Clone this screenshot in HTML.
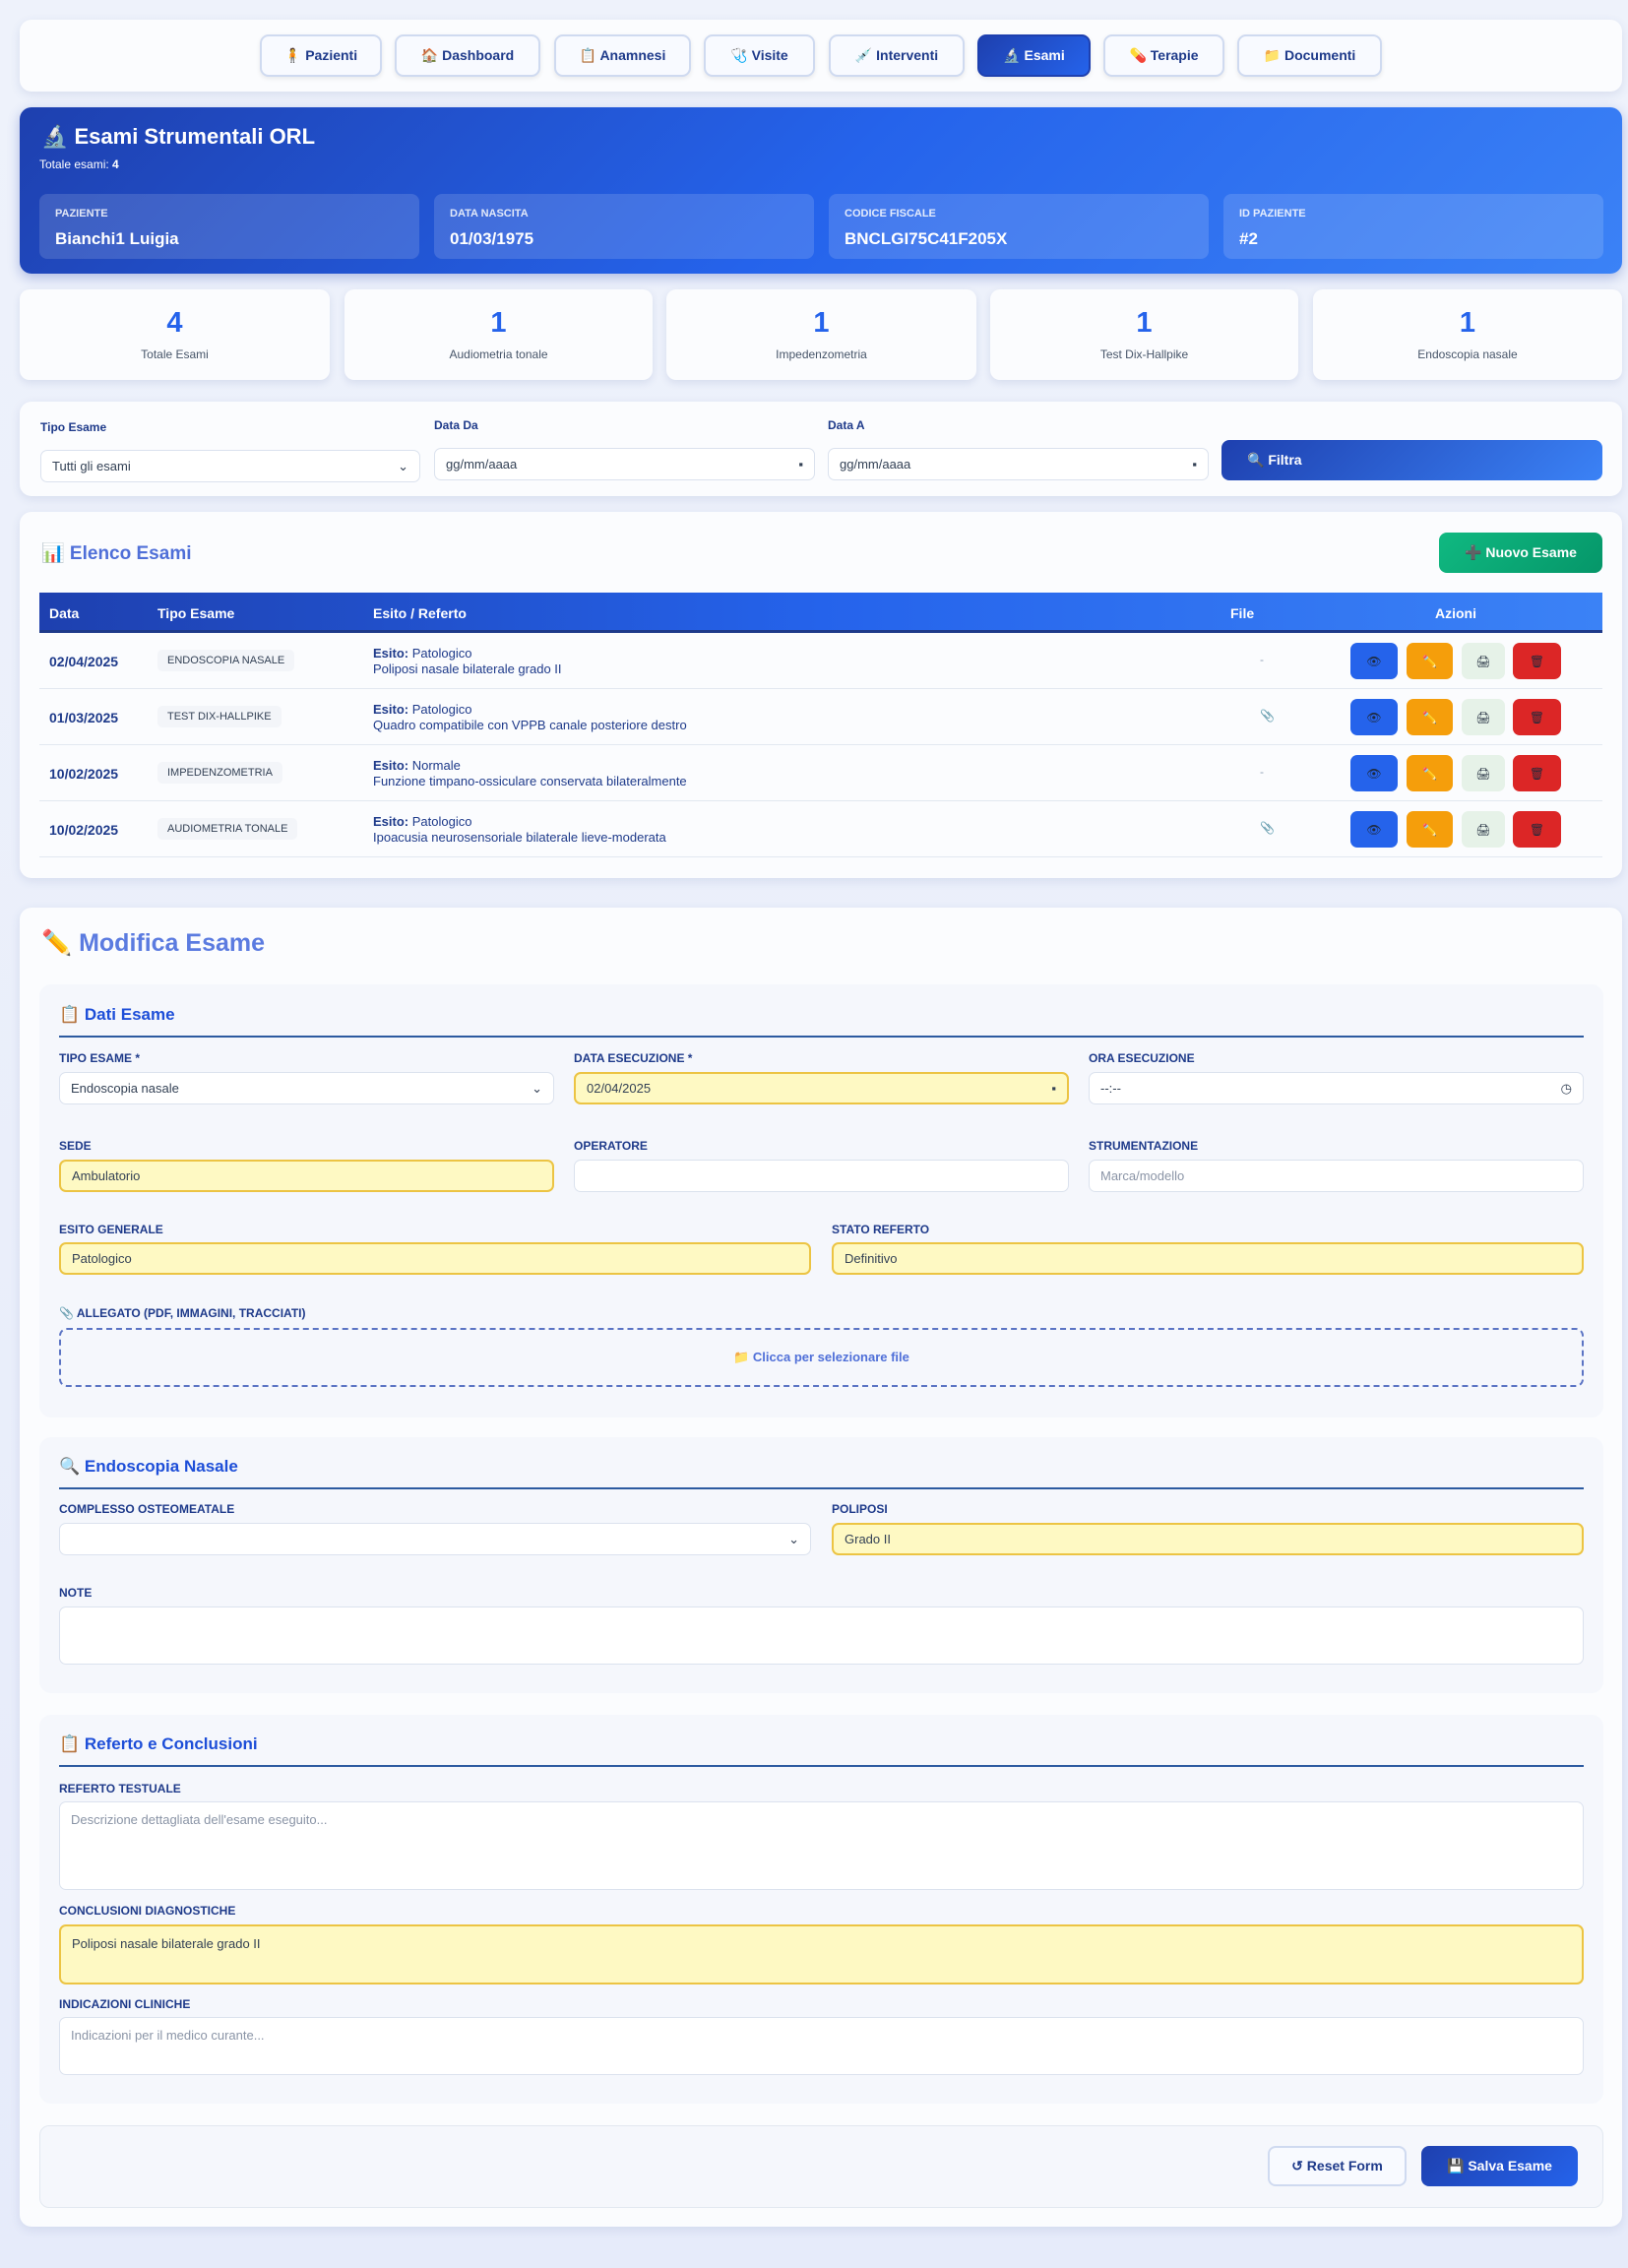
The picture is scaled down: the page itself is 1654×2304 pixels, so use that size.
<!DOCTYPE html>
<html><head><meta charset="utf-8"><style>
*{box-sizing:border-box;margin:0;padding:0}
body{width:1654px;height:2304px;background:linear-gradient(180deg,#eef2fb,#e6ebfa);font-family:"Liberation Sans","Noto Sans CJK SC",sans-serif;color:#1e293b;position:relative;overflow:hidden}
.a{position:absolute}
.card{position:absolute;background:#fbfcfe;border-radius:12px;box-shadow:0 3px 10px rgba(60,80,150,.12)}
.nb{position:absolute;top:35px;height:43px;border:2px solid #cfdaf0;border-radius:9px;background:#f8faff;font-size:14px;font-weight:bold;color:#1e3a8a;display:flex;align-items:center;justify-content:center;box-shadow:0 2px 5px rgba(0,0,0,.08)}
.info{position:absolute;top:197px;height:66px;width:386px;background:rgba(255,255,255,.14);border-radius:8px;color:#fff;padding:14px 16px}
.info .l{font-size:11px;font-weight:bold;opacity:.85}
.info .v{font-size:17px;font-weight:bold;margin-top:10px}
.st{position:absolute;top:294px;height:92px;background:#fbfcfe;border-radius:10px;box-shadow:0 3px 8px rgba(60,80,150,.12);text-align:center}
.st .n{font-size:29px;font-weight:bold;color:#2563eb;margin-top:18px}
.st .t{font-size:12px;color:#475569;margin-top:8px}
.lab{position:absolute;font-size:12px;font-weight:bold;color:#1e3a8a}
.inp{position:absolute;height:33px;border:1.5px solid #dbe2ee;border-radius:7px;background:#fff;font-size:13px;color:#334155;padding:0 11px;display:flex;align-items:center}
.y{background:#fef9c3;border:2px solid #ecc443}
.ph{color:#8a94a6}
.sec{position:absolute;left:40px;width:1589px;background:#f5f7fc;border-radius:12px}
.stit{position:absolute;left:60px;font-size:17px;font-weight:bold;color:#1d4ed8}
.line{position:absolute;left:60px;width:1549px;height:2px;background:#2c5aa0}
.row{position:absolute;left:40px;width:1588px;height:57px;border-bottom:1.5px solid #e2e8f0}
.row .d{position:absolute;left:10px;top:21px;font-size:14px;font-weight:bold;color:#1e3a8a}
.row .tp{position:absolute;left:120px;top:17px;height:22px;padding:0 10px;background:#f3f5f9;border-radius:5px;font-size:11px;color:#334155;line-height:22px}
.row .e{position:absolute;left:339px;top:13px;font-size:13px;color:#1e3a8a;line-height:16px}
.row .f{position:absolute;left:1240px;top:20px;font-size:12px;color:#94a3b8}
.bt{position:absolute;top:10px;height:37px;border-radius:7px;font-size:12px;display:flex;align-items:center;justify-content:center}
</style></head><body>
<div class="card" style="left:20px;top:20px;width:1628px;height:73px"></div>
<div class="nb" style="left:264px;width:124px">🧍 Pazienti</div>
<div class="nb" style="left:401px;width:148px">🏠 Dashboard</div>
<div class="nb" style="left:563px;width:139px">📋 Anamnesi</div>
<div class="nb" style="left:715px;width:113px">🩺 Visite</div>
<div class="nb" style="left:842px;width:138px">💉 Interventi</div>
<div class="nb" style="left:993px;width:115px;background:linear-gradient(135deg,#1e40af,#2563eb);color:#fff;border-color:#1e40af">🔬 Esami</div>
<div class="nb" style="left:1121px;width:123px">💊 Terapie</div>
<div class="nb" style="left:1257px;width:147px">📁 Documenti</div>

<div class="a" style="left:20px;top:109px;width:1628px;height:169px;border-radius:12px;background:linear-gradient(135deg,#1e40af,#2563eb 50%,#3b82f6);box-shadow:0 4px 12px rgba(30,64,175,.3)"></div>
<div class="a" style="left:42px;top:126px;font-size:22px;font-weight:bold;color:#fff">🔬 Esami Strumentali ORL</div>
<div class="a" style="left:40px;top:160px;font-size:12px;color:#fff">Totale esami: <b>4</b></div>
<div class="info" style="left:40px"><div class="l">PAZIENTE</div><div class="v">Bianchi1 Luigia</div></div>
<div class="info" style="left:441px"><div class="l">DATA NASCITA</div><div class="v">01/03/1975</div></div>
<div class="info" style="left:842px"><div class="l">CODICE FISCALE</div><div class="v">BNCLGI75C41F205X</div></div>
<div class="info" style="left:1243px"><div class="l">ID PAZIENTE</div><div class="v">#2</div></div>

<div class="st" style="left:20px;width:315px"><div class="n">4</div><div class="t">Totale Esami</div></div>
<div class="st" style="left:350px;width:313px"><div class="n">1</div><div class="t">Audiometria tonale</div></div>
<div class="st" style="left:677px;width:315px"><div class="n">1</div><div class="t">Impedenzometria</div></div>
<div class="st" style="left:1006px;width:313px"><div class="n">1</div><div class="t">Test Dix-Hallpike</div></div>
<div class="st" style="left:1334px;width:314px"><div class="n">1</div><div class="t">Endoscopia nasale</div></div>

<div class="card" style="left:20px;top:408px;width:1628px;height:96px"></div>
<div class="lab" style="left:41px;top:427px">Tipo Esame</div>
<div class="lab" style="left:441px;top:425px">Data Da</div>
<div class="lab" style="left:841px;top:425px">Data A</div>
<div class="inp" style="left:41px;top:457px;width:386px">Tutti gli esami<span style="margin-left:auto">⌄</span></div>
<div class="inp" style="left:441px;top:455px;width:387px">gg/mm/aaaa<span style="margin-left:auto">▪</span></div>
<div class="inp" style="left:841px;top:455px;width:387px">gg/mm/aaaa<span style="margin-left:auto">▪</span></div>
<div class="a" style="left:1241px;top:447px;width:387px;height:41px;border-radius:8px;background:linear-gradient(135deg,#1e40af,#3b82f6);color:#fff;font-size:14px;font-weight:bold;padding:12px 26px">🔍 Filtra</div>

<div class="card" style="left:20px;top:520px;width:1628px;height:372px"></div>
<div class="a" style="left:42px;top:550px;font-size:19px;font-weight:bold;color:#4f6fd8">📊 Elenco Esami</div>
<div class="a" style="left:1462px;top:541px;width:166px;height:41px;border-radius:8px;background:linear-gradient(135deg,#10b981,#059669);color:#fff;font-size:14px;font-weight:bold;text-align:center;line-height:41px">➕ Nuovo Esame</div>
<div class="a" style="left:40px;top:602px;width:1588px;height:41px;background:linear-gradient(90deg,#1e40af,#2563eb 50%,#3b82f6);border-bottom:3px solid #1e3a8a;color:#fff;font-size:14px;font-weight:bold">
<span class="a" style="left:10px;top:13px">Data</span><span class="a" style="left:120px;top:13px">Tipo Esame</span><span class="a" style="left:339px;top:13px">Esito / Referto</span><span class="a" style="left:1210px;top:13px">File</span><span class="a" style="left:1418px;top:13px">Azioni</span></div>
<div class="row" style="top:643px"><span class="d">02/04/2025</span><span class="tp">ENDOSCOPIA NASALE</span><span class="e"><b>Esito:</b> Patologico<br>Poliposi nasale bilaterale grado II</span><span class="f">-</span>
<span class="bt" style="left:1332px;width:48px;background:#2563eb">👁</span><span class="bt" style="left:1389px;width:47px;background:#f59e0b">✏️</span><span class="bt" style="left:1445px;width:44px;background:#e6f2e8">🖨</span><span class="bt" style="left:1497px;width:49px;background:#dc2626">🗑</span></div>
<div class="row" style="top:700px"><span class="d">01/03/2025</span><span class="tp">TEST DIX-HALLPIKE</span><span class="e"><b>Esito:</b> Patologico<br>Quadro compatibile con VPPB canale posteriore destro</span><span class="f">📎</span>
<span class="bt" style="left:1332px;width:48px;background:#2563eb">👁</span><span class="bt" style="left:1389px;width:47px;background:#f59e0b">✏️</span><span class="bt" style="left:1445px;width:44px;background:#e6f2e8">🖨</span><span class="bt" style="left:1497px;width:49px;background:#dc2626">🗑</span></div>
<div class="row" style="top:757px"><span class="d">10/02/2025</span><span class="tp">IMPEDENZOMETRIA</span><span class="e"><b>Esito:</b> Normale<br>Funzione timpano-ossiculare conservata bilateralmente</span><span class="f">-</span>
<span class="bt" style="left:1332px;width:48px;background:#2563eb">👁</span><span class="bt" style="left:1389px;width:47px;background:#f59e0b">✏️</span><span class="bt" style="left:1445px;width:44px;background:#e6f2e8">🖨</span><span class="bt" style="left:1497px;width:49px;background:#dc2626">🗑</span></div>
<div class="row" style="top:814px"><span class="d">10/02/2025</span><span class="tp">AUDIOMETRIA TONALE</span><span class="e"><b>Esito:</b> Patologico<br>Ipoacusia neurosensoriale bilaterale lieve-moderata</span><span class="f">📎</span>
<span class="bt" style="left:1332px;width:48px;background:#2563eb">👁</span><span class="bt" style="left:1389px;width:47px;background:#f59e0b">✏️</span><span class="bt" style="left:1445px;width:44px;background:#e6f2e8">🖨</span><span class="bt" style="left:1497px;width:49px;background:#dc2626">🗑</span></div>

<div class="card" style="left:20px;top:922px;width:1628px;height:1340px"></div>
<div class="a" style="left:42px;top:944px;font-size:25px;font-weight:bold;color:#5b7be0">✏️ Modifica Esame</div>

<div class="sec" style="top:1000px;height:440px"></div>
<div class="stit" style="top:1021px">📋 Dati Esame</div><div class="line" style="top:1052px"></div>
<div class="lab" style="left:60px;top:1068px">TIPO ESAME *</div>
<div class="lab" style="left:583px;top:1068px">DATA ESECUZIONE *</div>
<div class="lab" style="left:1106px;top:1068px">ORA ESECUZIONE</div>
<div class="inp" style="left:60px;top:1089px;width:503px">Endoscopia nasale<span style="margin-left:auto">⌄</span></div>
<div class="inp y" style="left:583px;top:1089px;width:503px">02/04/2025<span style="margin-left:auto">▪</span></div>
<div class="inp" style="left:1106px;top:1089px;width:503px">--:--<span style="margin-left:auto">◷</span></div>
<div class="lab" style="left:60px;top:1157px">SEDE</div>
<div class="lab" style="left:583px;top:1157px">OPERATORE</div>
<div class="lab" style="left:1106px;top:1157px">STRUMENTAZIONE</div>
<div class="inp y" style="left:60px;top:1178px;width:503px">Ambulatorio</div>
<div class="inp" style="left:583px;top:1178px;width:503px"></div>
<div class="inp ph" style="left:1106px;top:1178px;width:503px">Marca/modello</div>
<div class="lab" style="left:60px;top:1242px">ESITO GENERALE</div>
<div class="lab" style="left:845px;top:1242px">STATO REFERTO</div>
<div class="inp y" style="left:60px;top:1262px;width:764px">Patologico</div>
<div class="inp y" style="left:845px;top:1262px;width:764px">Definitivo</div>
<div class="lab" style="left:60px;top:1327px">📎 ALLEGATO (PDF, IMMAGINI, TRACCIATI)</div>
<div class="a" style="left:60px;top:1349px;width:1549px;height:60px;border:2px dashed #5b74c4;border-radius:8px;text-align:center;line-height:56px;font-size:13px;font-weight:bold;color:#4f6fd8">📁 Clicca per selezionare file</div>

<div class="sec" style="top:1460px;height:260px"></div>
<div class="stit" style="top:1480px">🔍 Endoscopia Nasale</div><div class="line" style="top:1511px"></div>
<div class="lab" style="left:60px;top:1526px">COMPLESSO OSTEOMEATALE</div>
<div class="lab" style="left:845px;top:1526px">POLIPOSI</div>
<div class="inp" style="left:60px;top:1547px;width:764px"><span style="margin-left:auto">⌄</span></div>
<div class="inp y" style="left:845px;top:1547px;width:764px">Grado II</div>
<div class="lab" style="left:60px;top:1611px">NOTE</div>
<div class="inp" style="left:60px;top:1632px;width:1549px;height:59px"></div>

<div class="sec" style="top:1742px;height:395px"></div>
<div class="stit" style="top:1762px">📋 Referto e Conclusioni</div><div class="line" style="top:1793px"></div>
<div class="lab" style="left:60px;top:1810px">REFERTO TESTUALE</div>
<div class="inp ph" style="left:60px;top:1830px;width:1549px;height:90px;align-items:flex-start;padding-top:10px">Descrizione dettagliata dell'esame eseguito...</div>
<div class="lab" style="left:60px;top:1934px">CONCLUSIONI DIAGNOSTICHE</div>
<div class="inp y" style="left:60px;top:1955px;width:1549px;height:61px;align-items:flex-start;padding-top:10px">Poliposi nasale bilaterale grado II</div>
<div class="lab" style="left:60px;top:2029px">INDICAZIONI CLINICHE</div>
<div class="inp ph" style="left:60px;top:2049px;width:1549px;height:59px;align-items:flex-start;padding-top:10px">Indicazioni per il medico curante...</div>

<div class="a" style="left:40px;top:2159px;width:1589px;height:84px;background:#f5f7fc;border-radius:10px;border:1px solid #e2e8f0"></div>
<div class="a" style="left:1288px;top:2180px;width:141px;height:41px;border:2px solid #cfdaf0;border-radius:8px;background:#f8faff;font-size:14px;font-weight:bold;color:#1e3a8a;text-align:center;line-height:37px">↺ Reset Form</div>
<div class="a" style="left:1444px;top:2180px;width:159px;height:41px;border-radius:8px;background:linear-gradient(135deg,#1e40af,#2563eb);font-size:14px;font-weight:bold;color:#fff;text-align:center;line-height:41px">💾 Salva Esame</div>
</body></html>
